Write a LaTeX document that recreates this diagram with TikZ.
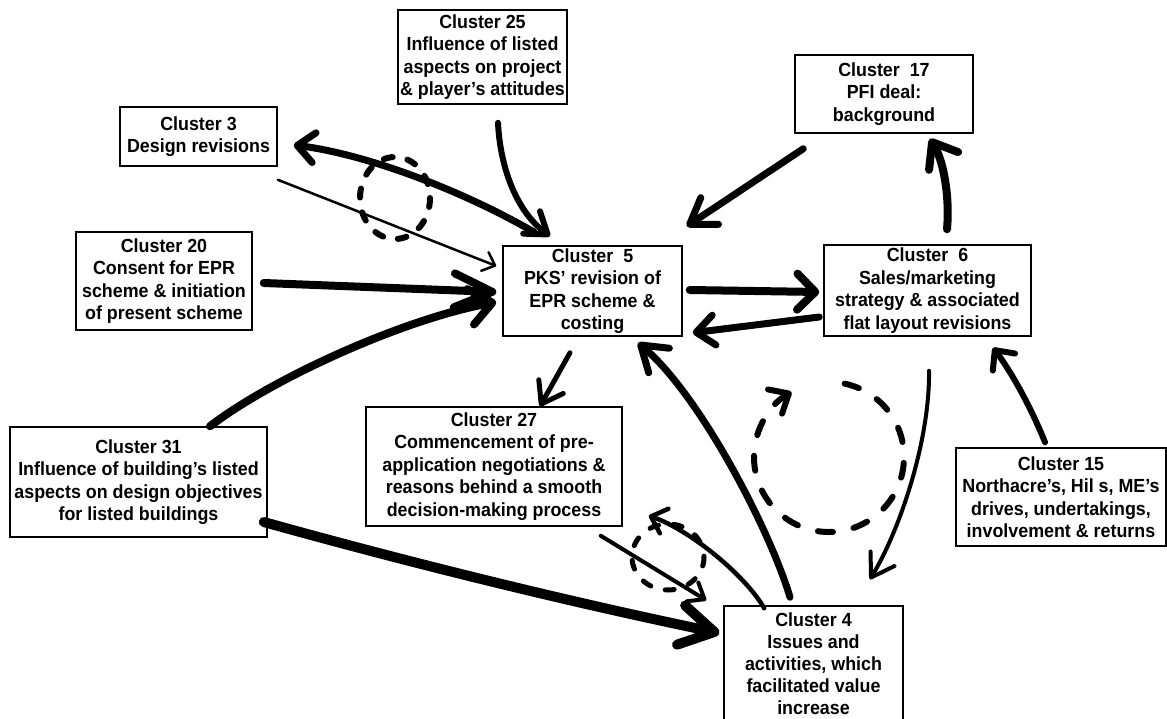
\documentclass[tikz,border=0pt]{standalone}
\usepackage{fontspec}
\setmainfont{Liberation Sans}[FakeStretch=0.94]
\usetikzlibrary{arrows.meta,calc}
\begin{document}
\begin{tikzpicture}[x=1pt,y=-1pt,
  box/.style={draw,line width=1.5pt,align=center,inner sep=0pt,fill=white,
    font=\bfseries\fontsize{19}{22.5}\selectfont},
  con/.style={line width=#1,line cap=round,line join=round},
  dsh/.style={line width=#1,line cap=round,dash pattern=on 9pt off 15pt},
  bigdsh/.style={line width=#1,line cap=round,dash pattern=on 15pt off 21pt}]
\useasboundingbox (0,0) rectangle (1167,719);
\fill[white] (0,0) rectangle (1167,719);

% dashed loops (drawn first, under boxes)
\draw[dsh=6pt] (395,198) ellipse [x radius=35, y radius=41];
\draw[dsh=5pt] (668,557) ellipse [x radius=36, y radius=33];
\draw[bigdsh=6pt,-{Straight Barb[length=16pt,width=28pt,round]}]
  (829,457) ++(-78:75) arc[start angle=-78,end angle=240,radius=75];

% nodes
\node[box,minimum width=169pt,minimum height=94pt] (c25) at (482.5,57)
  {Cluster 25\\Influence of listed\\aspects on project\\\& player's attitudes};
\node[box,minimum width=157pt,minimum height=59pt] (c3) at (198.5,136.5)
  {Cluster 3\\Design revisions};
\node[box,minimum width=178pt,minimum height=78pt] (c17) at (884,94)
  {Cluster~~17\\PFI deal:\\background};
\node[box,minimum width=176pt,minimum height=98pt] (c20) at (164,281)
  {Cluster 20\\Consent for EPR\\scheme \& initiation\\of present scheme};
\node[box,minimum width=179pt,minimum height=90pt] (c5) at (592.5,291)
  {Cluster~~5\\PKS' revision of\\EPR scheme \&\\costing};
\node[box,minimum width=207pt,minimum height=91pt] (c6) at (927.5,290.5)
  {Cluster~~6\\Sales/marketing\\strategy \& associated\\flat layout revisions};
\node[box,minimum width=257pt,minimum height=110pt] (c31) at (138.5,482)
  {Cluster 31\\Influence of building's listed\\aspects on design objectives\\for listed buildings};
\node[box,minimum width=256pt,minimum height=119pt] (c27) at (494,466.5)
  {Cluster 27\\Commencement of pre-\\application negotiations \&\\reasons behind a smooth\\decision-making process};
\node[box,minimum width=210pt,minimum height=98pt] (c15) at (1061,497)
  {Cluster 15\\Northacre's, Hil s, ME's\\drives, undertakings,\\involvement \& returns};
\node[box,minimum width=179pt,minimum height=116pt,
  font=\bfseries\fontsize{19}{22}\selectfont] (c4) at (813.5,664)
  {Cluster 4\\Issues and\\activities, which\\facilitated value\\increase};

% connectors
\draw[con=7pt,-{Straight Barb[length=17pt,width=30pt,round]}]
  ($(c5.north west)+(32,-13)$) .. controls (465,192) and (370,155) .. ($(c3.east)+(16,8.5)$);
\draw[con=2.5pt,-{Straight Barb[length=11pt,width=20pt,round]}]
  ($(c3.south east)+(0,13)$) -- ($(c5.west)+(-6,-25)$);
\draw[con=6pt,-{Straight Barb[length=20pt,width=28pt,round]}]
  ($(c25.south)+(15.5,18)$) .. controls (500,165) and (515,210) .. ($(c5.north)+(-42.5,-9)$);
\draw[con=7pt,-{Straight Barb[length=24pt,width=32pt,round]}]
  ($(c17.south west)+(9,15)$) -- ($(c5.north east)+(4,-19)$);
\draw[con=8pt,-{Straight Barb[length=22pt,width=34pt,round]}]
  ($(c6.north)+(19.5,-15)$) .. controls (950,195) and (943,160) .. ($(c17.south)+(46,5)$);
\draw[con=8pt,-{Straight Barb[length=18pt,width=36pt,round]}]
  ($(c5.east)+(7,-1)$) -- ($(c6.west)+(-4,1.5)$);
\draw[con=7pt,-{Straight Barb[length=18pt,width=30pt,round]}]
  ($(c6.west)+(-4,26.5)$) -- ($(c5.south east)+(10,-4)$);
\draw[con=6pt,-{Straight Barb[length=15pt,width=28pt,round]}]
  ($(c15.north)+(-16,-5)$) .. controls (1030,405) and (1010,370) .. ($(c6.south)+(65.5,11)$);
\draw[con=4pt,-{Straight Barb[length=22pt,width=28pt,round]}]
  ($(c6.south)+(1.5,34)$) .. controls (930,440) and (900,530) .. ($(c4.north)+(56.5,-26)$);
\draw[con=7pt,-{Straight Barb[length=24pt,width=32pt,round]}]
  ($(c4.north)+(-23.5,-8)$) .. controls (770,530) and (700,395) .. ($(c5.south)+(45.5,6)$);
\draw[con=5pt,-{Straight Barb[length=20pt,width=28pt,round]}]
  ($(c5.south)+(-22.5,16)$) -- ($(c27.north)+(46,0)$);
\draw[con=8pt,-{Straight Barb[length=22pt,width=36pt,round]}]
  ($(c31.north)+(71.5,0)$) .. controls (270,380) and (400,320) .. ($(c5.west)+(-6,11)$);
\draw[con=8pt,-{Straight Barb[length=38pt,width=34pt,round]}]
  ($(c20.east)+(11,2)$) -- ($(c5.west)+(-6,1)$);
\draw[con=10pt,-{Straight Barb[length=34pt,width=40pt,round]}]
  ($(c31.east)+(-4,40)$) .. controls (400,560) and (560,600) .. ($(c4.west)+(-4,-31)$);
\draw[con=4.5pt,-{Straight Barb[length=14pt,width=26pt,round]}]
  ($(c4.north west)+(41,3)$) .. controls (745,575) and (690,530) .. ($(c27.south east)+(26,-11)$);
\draw[con=4pt,-{Straight Barb[length=14pt,width=22pt,round]}]
  ($(c27.south east)+(-22,9)$) -- ($(c4.north west)+(-17,-5)$);
\end{tikzpicture}
\end{document}
